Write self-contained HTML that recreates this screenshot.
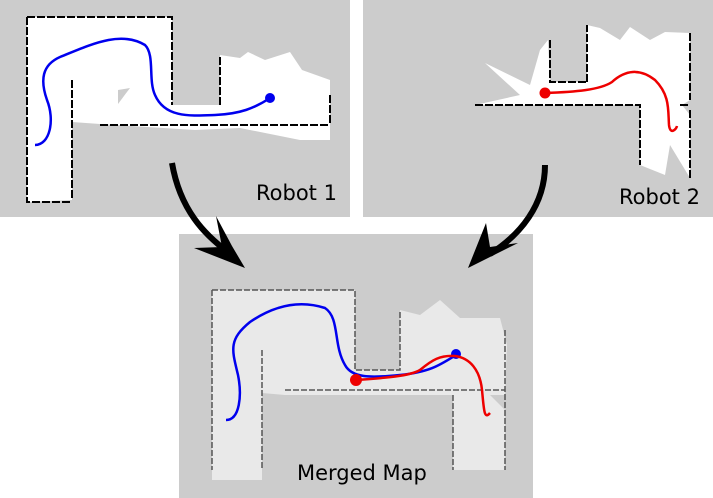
<!DOCTYPE html>
<html><head><style>body{margin:0;background:#fff}svg{display:block}text{font-family:"DejaVu Sans","Liberation Sans",sans-serif;font-size:21px;fill:#000}</style></head>
<body>
<svg width="713" height="498" viewBox="0 0 713 498" xmlns="http://www.w3.org/2000/svg">
<rect x="0" y="0" width="350" height="217" fill="#cccccc"/>
<rect x="363" y="0" width="350" height="217" fill="#cccccc"/>
<rect x="179" y="234" width="354" height="264" fill="#cccccc"/>
<g>
<polygon points="27,17 172,17 172,105 220,105 220,55 240,58 248,52 265,60 290,52 302,70 330,80 330,140 300,140 240,128 195,130 100,124 72,122 72,200 27,202" fill="#fff"/>
<polygon points="118,90 130,88 118,104" fill="#ccc"/>
<path d="M27,17 H172 V105 M220,105 V55 M27,17 V202 H72 M72,80 V200 M100,125 H330 M330,95 V125" stroke="#000" stroke-width="2" fill="none" stroke-dasharray="8,2"/>
<path d="M35,145 C50,145 55,120 47,100 C40,80 42,65 60,57 C90,45 120,30 145,45 C155,55 148,80 155,95 C165,118 190,116 215,115 C240,114 255,108 270,98" stroke="#0000ee" stroke-width="2.5" fill="none"/>
<circle cx="270" cy="98" r="5" fill="#0000ee"/>
</g>
<g>
<polygon points="475,105 520,95 485,63 530,85 540,50 548,40 550,82 587,82 587,25 600,28 620,40 630,27 650,40 665,32 690,33 690,100 682,105 690,115 690,178 670,145 665,175 640,165 640,105" fill="#fff"/>
<path d="M475,105 H640 V165 M587,82 V25 M550,40 V82 H587 M690,33 V100 M680,105 H690 M690,110 V178" stroke="#000" stroke-width="2" fill="none" stroke-dasharray="8,2"/>
<path d="M545,93 C575,92 600,90 612,82 C625,70 640,68 655,80 C670,95 668,110 669,125 C670,135 676,130 677,126" stroke="#ee0000" stroke-width="2.5" fill="none"/>
<circle cx="545" cy="93" r="5.5" fill="#ee0000"/>
</g>
<g>
<polygon points="212,290 355,290 355,370 400,370 400,310 420,315 440,300 460,318 500,318 507,345 505,395 490,395 505,410 505,470 453,470 453,395 380,395 285,395 262,393 262,480 212,480" fill="#e9e9e9"/>
<path d="M212,290 H355 V370 H400 V310 M212,290 V470 M262,350 V470 M285,390 H505 M453,395 V470 M505,330 V470" stroke="#555" stroke-width="1.5" fill="none" stroke-dasharray="6,2"/>
<path d="M226,420 C240,420 242,395 238,375 C232,350 228,340 250,322 C275,305 300,300 325,308 C340,318 333,345 345,365 C352,378 370,378 400,375 C430,372 440,365 456,355" stroke="#0000ee" stroke-width="2.5" fill="none"/>
<circle cx="456" cy="354" r="5" fill="#0000ee"/>
<path d="M356,380 C385,378 410,376 420,370 C432,360 440,355 455,356 C470,358 480,370 482,390 C484,410 484,420 490,413" stroke="#ee0000" stroke-width="2.5" fill="none"/>
<circle cx="356" cy="380" r="6" fill="#ee0000"/>
</g>
<path d="M172,163 C180,210 205,235 228,252" stroke="#000" stroke-width="6" fill="none"/>
<polygon points="245,268 194,248 222,247 216,216 232,246" fill="#000"/>
<path d="M545,165 C545,205 520,235 490,254" stroke="#000" stroke-width="6" fill="none"/>
<polygon points="468,268 486,223 490,247 518,243" fill="#000"/>
<text x="256" y="200">Robot 1</text>
<text x="619" y="204">Robot 2</text>
<text x="297" y="480">Merged Map</text>
</svg>
</body></html>
